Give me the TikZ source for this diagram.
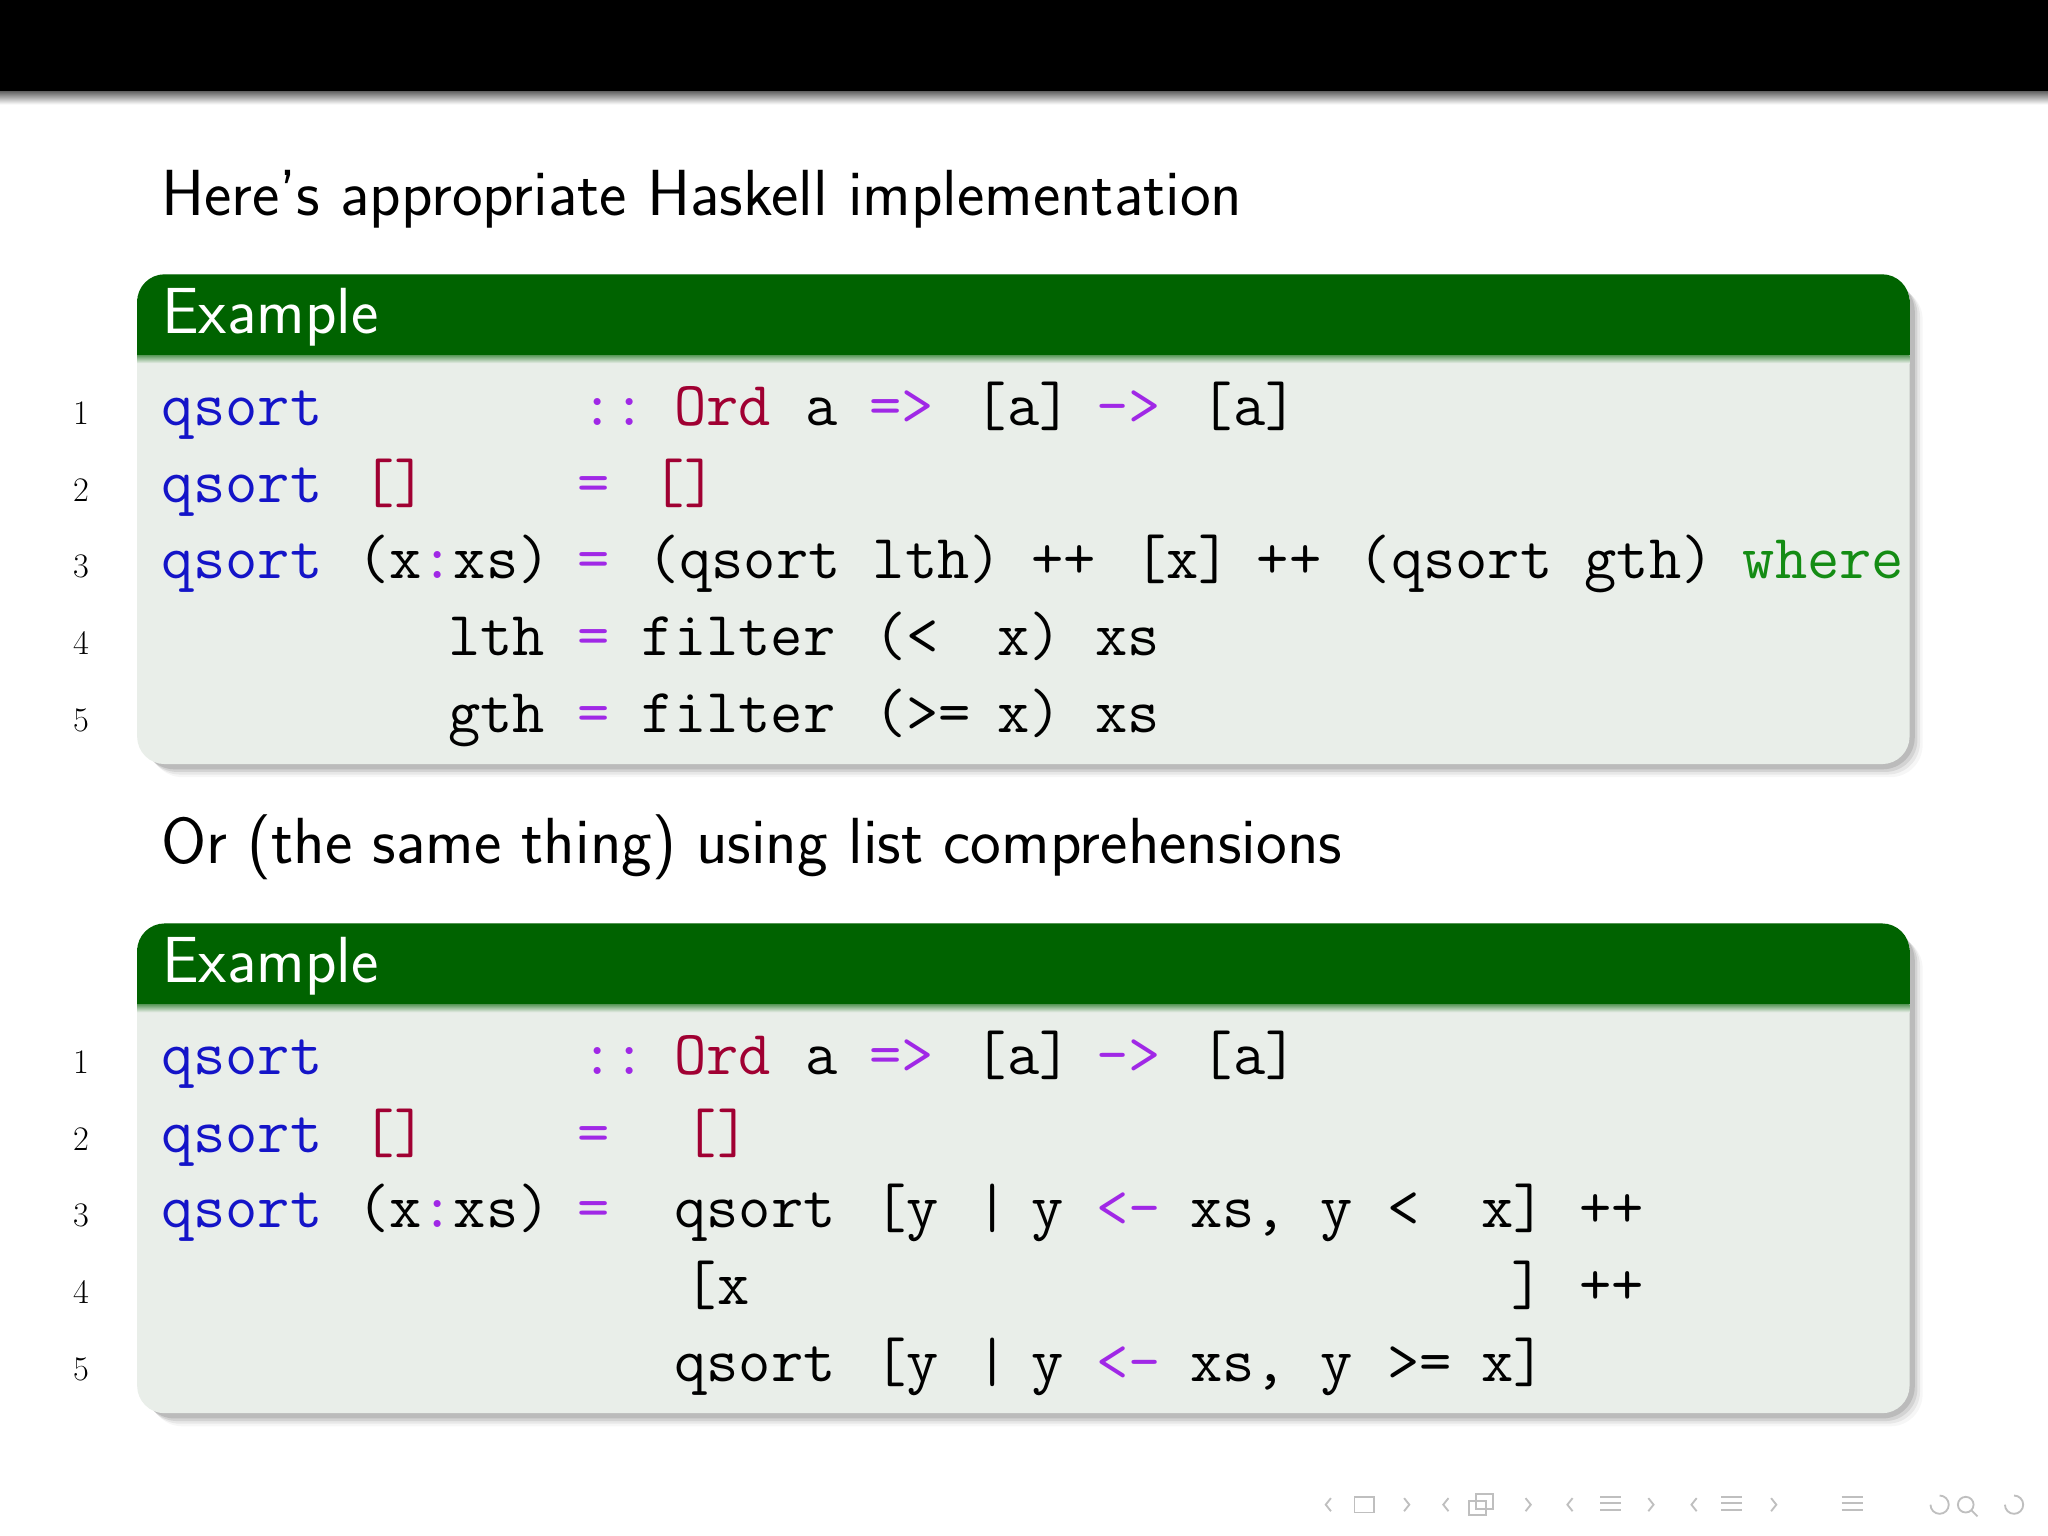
\documentclass[tikz,border=0pt]{standalone}
\definecolor{hdr}{RGB}{0,99,0}
\definecolor{bodyc}{RGB}{233,238,233}
\definecolor{kw}{RGB}{20,20,200}
\definecolor{op}{RGB}{160,40,230}
\definecolor{ty}{RGB}{160,0,50}
\definecolor{gr}{RGB}{20,140,20}
\tikzset{
  tok/.style={anchor=base west,inner sep=0pt,font=\fontsize{27.3}{30}\selectfont\ttfamily},
  num/.style={anchor=base,inner sep=0pt,font=\fontsize{15}{18}\selectfont\rmfamily},
  sans/.style={anchor=base west,inner sep=0pt,font=\fontsize{28.4}{32}\selectfont\sffamily},
}
\begin{document}
\begin{tikzpicture}[x=0.02cm,y=-0.02cm]
\useasboundingbox (0,0) rectangle (1568,1176);
\fill[white] (0,0) rectangle (1568,1176);
\fill[black] (0,0) rectangle (1568,70);
\shade[top color=black!60,bottom color=white] (0,70) rectangle (1568,80);
\node[sans] (t1) at (123,165) {Here's appropriate Haskell implementation};
\node[sans] (t2) at (123,661) {Or (the same thing) using list comprehensions};
% blocks
\foreach \y/\n in {210/a,707/b}{
  \foreach \s/\o in {10/6,8/10,6/14,4/18}{
    \fill[black,opacity=\o/100*0.6,rounded corners=14] (105+\s,\y+\s) rectangle (1462+\s,\y+375+\s);
  }
  \fill[bodyc,rounded corners=12] (105,\y) rectangle (1462,\y+375);
  \fill[hdr,rounded corners=12] (105,\y) rectangle (1462,\y+40);
  \fill[hdr] (105,\y+20) rectangle (1462,\y+62);
  \shade[top color=hdr!60!bodyc,bottom color=bodyc] (105,\y+62) rectangle (1462,\y+68);
  \node[sans,text=white] (h\n) at (124,\y+45) {Example};
}
% line numbers
\foreach \yy in {0,497}{
 \foreach \i/\b in {1/325,2/384,3/442,4/501,5/560}{
   \node[num] (n\i) at (62,\b+\yy) {\i};
 }
}
% block 1
\def\ba{326}\def\bb{385}\def\bc{443}\def\bd{502}\def\be{561}
\node[tok,text=kw] (a1) at (123,\ba) {qsort};
\node[tok,text=op] (a2) at (445,\ba) {::};
\node[tok,text=ty] (a3) at (516,\ba) {Ord};
\node[tok] (a4) at (616,\ba) {a};
\node[tok,text=op] (a5) at (665,\ba) {=>};
\node[tok] (a6) at (746,\ba) {[a]};
\node[tok,text=op] (a7) at (839,\ba) {->};
\node[tok] (a8) at (919,\ba) {[a]};
\node[tok,text=kw] (b1) at (123,\bb) {qsort};
\node[tok,text=ty] (b2) at (277,\bb) {[]};
\node[tok,text=op] (b3) at (442,\bb) {=};
\node[tok,text=ty] (b4) at (499,\bb) {[]};
\node[tok,text=kw] (c1) at (123,\bc) {qsort};
\node[tok] (c2) at (273,\bc) {(x\textcolor{op}{:}xs)};
\node[tok,text=op] (c3) at (442,\bc) {=};
\node[tok] (c4) at (495,\bc) {(qsort lth)};
\node[tok] (c5) at (789,\bc) {++};
\node[tok] (c6) at (868,\bc) {[x]};
\node[tok] (c7) at (962,\bc) {++};
\node[tok] (c8) at (1040,\bc) {(qsort gth)};
\node[tok,text=gr] (c9) at (1334,\bc) {where};
\node[tok] (d1) at (343,\bd) {lth};
\node[tok,text=op] (d2) at (442,\bd) {=};
\node[tok] (d3) at (491,\bd) {filter};
\node[tok] (d4) at (669,\bd) {(<};
\node[tok] (d5) at (763,\bd) {x)};
\node[tok] (d6) at (838,\bd) {xs};
\node[tok] (e1) at (343,\be) {gth};
\node[tok,text=op] (e2) at (442,\be) {=};
\node[tok] (e3) at (491,\be) {filter};
\node[tok] (e4) at (669,\be) {(>=};
\node[tok] (e5) at (763,\be) {x)};
\node[tok] (e6) at (838,\be) {xs};
% block 2
\def\ba{823}\def\bb{882}\def\bc{940}\def\bd{999}\def\be{1058}
\node[tok,text=kw] (f1) at (123,\ba) {qsort};
\node[tok,text=op] (f2) at (445,\ba) {::};
\node[tok,text=ty] (f3) at (516,\ba) {Ord};
\node[tok] (f4) at (616,\ba) {a};
\node[tok,text=op] (f5) at (665,\ba) {=>};
\node[tok] (f6) at (746,\ba) {[a]};
\node[tok,text=op] (f7) at (839,\ba) {->};
\node[tok] (f8) at (919,\ba) {[a]};
\node[tok,text=kw] (g1) at (123,\bb) {qsort};
\node[tok,text=ty] (g2) at (277,\bb) {[]};
\node[tok,text=op] (g3) at (442,\bb) {=};
\node[tok,text=ty] (g4) at (524,\bb) {[]};
\node[tok,text=kw] (k1) at (123,\bc) {qsort};
\node[tok] (k2) at (273,\bc) {(x\textcolor{op}{:}xs)};
\node[tok,text=op] (k3) at (442,\bc) {=};
\node[tok] (k4) at (516,\bc) {qsort};
\node[tok] (k5) at (669,\bc) {[y};
\node[tok] (k6) at (747,\bc) {|};
\node[tok] (k7) at (789,\bc) {y};
\node[tok,text=op] (k8) at (839,\bc) {<-};
\node[tok] (k9) at (911,\bc) {xs,};
\node[tok] (k10) at (1011,\bc) {y};
\node[tok] (k11) at (1062,\bc) {<};
\node[tok] (k12) at (1134,\bc) {x]};
\node[tok] (k13) at (1209,\bc) {++};
\node[tok] (m1) at (524,\bd) {[x};
\node[tok] (m2) at (1157,\bd) {]};
\node[tok] (m3) at (1209,\bd) {++};
\node[tok] (p4) at (516,\be) {qsort};
\node[tok] (p5) at (669,\be) {[y};
\node[tok] (p6) at (747,\be) {|};
\node[tok] (p7) at (789,\be) {y};
\node[tok,text=op] (p8) at (839,\be) {<-};
\node[tok] (p9) at (911,\be) {xs,};
\node[tok] (p10) at (1011,\be) {y};
\node[tok] (p11) at (1062,\be) {>=};
\node[tok] (p12) at (1134,\be) {x]};
% nav symbols
\begin{scope}[black!25,line width=0.8pt]
\foreach \x in {1015,1105,1200,1295}{\draw (\x+4,1147)--(\x,1152)--(\x+4,1157);}
\foreach \x in {1075,1168,1262,1356}{\draw (\x,1147)--(\x+4,1152)--(\x,1157);}
\draw (1037,1146) rectangle (1052,1158);
\draw (1125,1149) rectangle (1138,1160); \draw (1130,1144) rectangle (1143,1155);
\foreach \x in {1225,1318,1410}{\foreach \d in {0,5,10}{\draw (\x,1146+\d)--(\x+16,1146+\d);}}
\draw (1478,1152) arc (180:-90:7);
\draw (1505,1152) circle (6); \draw (1509,1156)--(1514,1161);
\draw (1535,1152) arc (180:-90:7);
\end{scope}
\end{tikzpicture}
\end{document}
